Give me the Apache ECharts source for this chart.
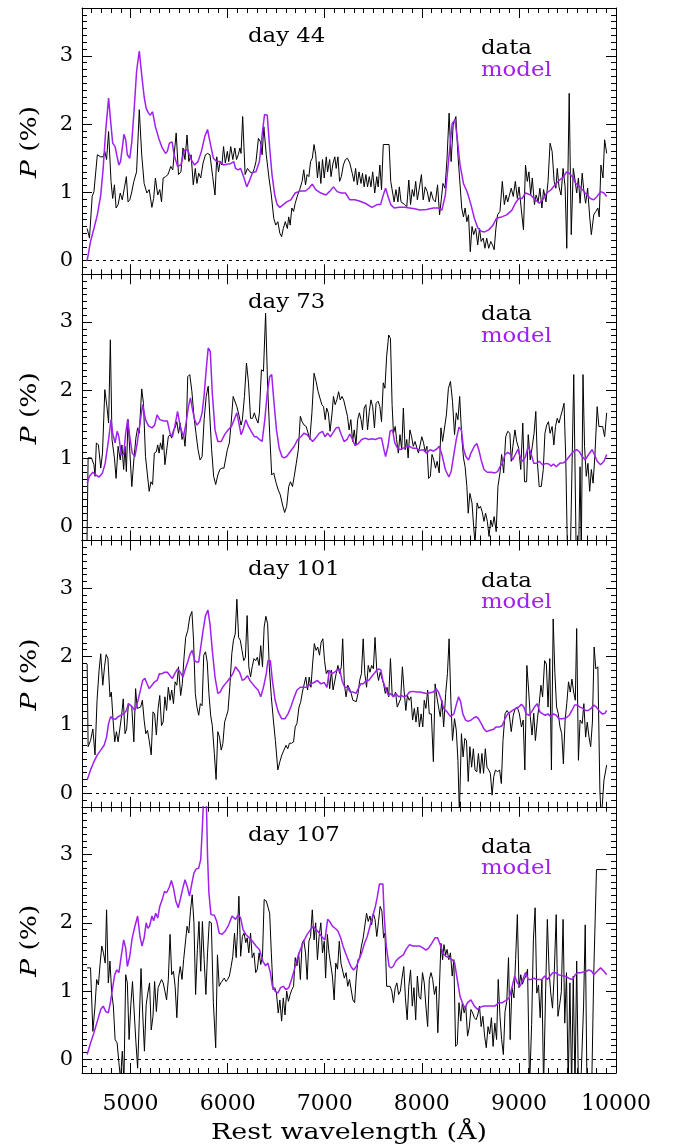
<!DOCTYPE html>
<html>
<head>
<meta charset="utf-8">
<script src="https://cdn.jsdelivr.net/npm/echarts@6/dist/echarts.min.js"></script>
<style>
  html, body { margin: 0; padding: 0; background: #fff; }
  #chart { width: 673px; height: 1148px; }
</style>
</head>
<body>
<div id="chart"></div>
<script>
// Epoch labels for the four stacked panels
const panelLabels = ['day 44', 'day 73', 'day 101', 'day 107'];
const xTickValues = [5000, 6000, 7000, 8000, 9000, 10000];
const yTickValues = [0, 1, 2, 3];

// Polarization spectra: [rest wavelength (Å), P (%)]
const day44Data = [[4553,0.47],[4577,0.33],[4605,0.94],[4623,1.01],[4658,1.55],[4693,1.52],[4718,1.52],[4735,1.60],[4753,1.48],[4774,1.89],[4799,1.16],[4816,0.91],[4834,1.11],[4851,0.77],[4872,0.82],[4894,0.99],[4915,0.89],[4936,1.06],[4957,1.23],[4974,0.86],[4992,0.89],[5010,0.99],[5034,1.16],[5062,1.30],[5090,2.21],[5115,1.55],[5140,1.13],[5168,0.99],[5192,1.04],[5220,0.78],[5238,0.91],[5256,1.21],[5280,0.96],[5301,1.04],[5319,0.86],[5336,1.21],[5361,1.23],[5386,1.26],[5414,1.38],[5435,1.33],[5449,1.55],[5470,1.87],[5494,1.26],[5519,1.30],[5540,1.65],[5561,1.48],[5582,1.84],[5600,1.45],[5624,1.55],[5646,1.11],[5667,1.35],[5684,1.13],[5702,1.28],[5723,1.21],[5747,1.43],[5772,1.55],[5793,1.57],[5818,1.55],[5846,1.23],[5870,0.96],[5888,1.52],[5906,1.30],[5923,1.45],[5941,1.40],[5958,1.67],[5976,1.43],[5997,1.60],[6011,1.45],[6032,1.67],[6053,1.48],[6074,1.65],[6092,1.48],[6109,1.55],[6127,1.65],[6138,1.57],[6155,2.11],[6180,1.26],[6204,1.35],[6229,1.30],[6257,1.28],[6275,1.35],[6292,1.45],[6317,1.79],[6338,1.74],[6355,1.55],[6373,1.96],[6398,1.55],[6426,1.21],[6450,0.96],[6475,0.62],[6496,0.52],[6517,0.57],[6538,0.40],[6556,0.35],[6573,0.47],[6594,0.57],[6615,0.47],[6629,0.64],[6644,0.52],[6661,0.77],[6679,0.72],[6696,0.84],[6721,0.96],[6742,1.04],[6767,1.16],[6784,1.33],[6802,1.11],[6819,1.26],[6837,1.23],[6854,1.45],[6872,1.50],[6890,1.70],[6907,1.55],[6925,1.21],[6942,1.45],[6960,1.13],[6977,1.48],[6995,1.21],[7016,1.52],[7030,1.30],[7051,1.48],[7065,1.23],[7086,1.43],[7104,1.52],[7118,1.35],[7136,1.52],[7153,1.16],[7171,1.23],[7192,1.40],[7213,1.48],[7234,1.50],[7258,1.43],[7283,1.28],[7301,1.16],[7318,1.35],[7336,1.11],[7353,1.30],[7374,1.13],[7389,1.28],[7406,1.08],[7424,1.26],[7441,1.08],[7459,1.23],[7476,1.08],[7494,1.30],[7515,0.99],[7536,1.23],[7550,1.08],[7568,1.40],[7585,1.04],[7603,1.70],[7663,1.70],[7680,1.16],[7698,1.16],[7715,0.86],[7733,1.04],[7754,0.86],[7768,1.08],[7786,0.86],[7803,0.84],[7824,0.82],[7845,0.79],[7866,1.18],[7884,0.82],[7902,1.04],[7919,0.94],[7937,1.16],[7954,0.89],[7972,1.04],[7996,1.26],[8014,0.89],[8035,1.08],[8056,1.01],[8077,0.86],[8095,1.01],[8119,0.89],[8140,0.86],[8162,1.11],[8183,0.67],[8200,0.89],[8218,1.13],[8239,1.06],[8260,1.50],[8281,2.16],[8302,1.45],[8323,1.99],[8351,2.11],[8372,1.55],[8394,1.11],[8411,0.77],[8429,0.64],[8446,0.77],[8464,0.57],[8481,0.67],[8499,0.13],[8517,0.50],[8534,0.38],[8555,0.47],[8576,0.23],[8594,0.47],[8611,0.28],[8632,0.33],[8650,0.18],[8668,0.33],[8689,0.18],[8710,0.28],[8727,0.23],[8745,0.16],[8763,0.47],[8780,0.67],[8805,0.72],[8829,1.16],[8850,0.82],[8868,0.96],[8885,0.86],[8903,0.96],[8921,1.06],[8942,0.94],[8963,1.16],[8984,0.91],[9001,1.08],[9023,0.77],[9047,0.45],[9068,1.40],[9086,1.16],[9103,1.30],[9121,0.96],[9138,1.21],[9160,0.82],[9177,0.96],[9198,0.86],[9216,1.06],[9237,0.77],[9254,1.04],[9279,0.86],[9300,1.16],[9321,1.72],[9342,1.60],[9363,1.16],[9381,1.06],[9395,1.35],[9413,1.08],[9434,0.96],[9455,1.35],[9476,1.08],[9493,0.18],[9518,2.45],[9539,0.38],[9560,1.35],[9578,1.18],[9595,0.99],[9613,1.21],[9630,0.84],[9652,1.28],[9666,1.06],[9687,0.84],[9708,1.06],[9729,0.64],[9746,0.38],[9771,0.67],[9792,0.72],[9813,0.77],[9827,0.64],[9845,1.40],[9866,1.21],[9883,1.77],[9904,1.57]];

const day44Model = [[4553,0.00],[4588,0.28],[4623,0.47],[4658,0.67],[4693,0.96],[4718,1.35],[4746,1.94],[4774,2.38],[4795,2.04],[4816,1.72],[4841,1.67],[4862,1.52],[4880,1.40],[4897,1.45],[4915,1.65],[4932,1.85],[4950,1.77],[4967,1.55],[4992,1.50],[5013,1.74],[5038,2.23],[5062,2.77],[5090,3.07],[5115,2.72],[5140,2.40],[5161,2.23],[5185,2.16],[5203,2.13],[5227,2.18],[5256,1.96],[5291,1.79],[5326,1.65],[5361,1.57],[5379,1.60],[5400,1.72],[5428,1.74],[5449,1.55],[5484,1.38],[5519,1.40],[5554,1.62],[5589,1.62],[5624,1.48],[5660,1.40],[5695,1.45],[5730,1.60],[5765,1.82],[5793,1.92],[5818,1.74],[5853,1.50],[5888,1.45],[5923,1.45],[5958,1.40],[5993,1.41],[6029,1.42],[6064,1.45],[6081,1.35],[6109,1.33],[6134,1.35],[6169,1.21],[6197,1.08],[6222,1.16],[6257,1.29],[6292,1.30],[6327,1.45],[6355,1.84],[6380,2.14],[6408,2.13],[6433,1.65],[6457,1.26],[6485,0.96],[6510,0.82],[6538,0.78],[6573,0.82],[6608,0.86],[6651,0.89],[6696,0.99],[6749,1.02],[6802,1.02],[6837,1.06],[6872,1.12],[6907,1.04],[6960,0.99],[7013,0.96],[7048,1.01],[7090,1.08],[7128,1.01],[7171,0.99],[7213,0.99],[7258,0.89],[7311,0.89],[7364,0.87],[7417,0.84],[7487,0.78],[7540,0.82],[7575,0.82],[7603,0.96],[7627,1.06],[7652,0.94],[7680,0.82],[7715,0.77],[7768,0.78],[7821,0.78],[7873,0.77],[7926,0.76],[7979,0.74],[8049,0.75],[8119,0.77],[8172,0.77],[8207,0.74],[8242,0.96],[8278,1.50],[8313,2.01],[8341,2.06],[8365,1.79],[8394,1.40],[8429,1.13],[8471,0.99],[8506,0.82],[8541,0.62],[8576,0.48],[8611,0.43],[8647,0.42],[8689,0.45],[8734,0.52],[8769,0.62],[8822,0.64],[8875,0.67],[8928,0.74],[8963,0.84],[8998,0.91],[9033,0.91],[9068,0.99],[9121,0.96],[9156,0.91],[9209,0.84],[9244,0.89],[9286,0.99],[9332,1.04],[9384,1.13],[9420,1.18],[9462,1.23],[9490,1.30],[9518,1.28],[9550,1.23],[9585,1.13],[9630,1.08],[9683,0.99],[9736,0.91],[9771,0.89],[9806,0.94],[9841,1.01],[9876,0.99],[9904,0.94]];

const day73Data = [[4550,-0.4],[4563,1.01],[4598,1.01],[4623,0.91],[4634,0.74],[4648,1.23],[4669,1.20],[4693,0.86],[4711,1.08],[4735,2.01],[4757,1.76],[4774,1.52],[4792,2.74],[4809,1.28],[4834,1.01],[4851,0.71],[4872,1.18],[4894,0.98],[4911,1.20],[4929,0.84],[4943,1.18],[4957,0.81],[4974,1.57],[4992,1.59],[5013,0.59],[5034,0.98],[5055,1.30],[5073,1.45],[5090,1.37],[5115,2.02],[5133,1.81],[5154,1.03],[5168,1.03],[5192,0.52],[5210,0.66],[5227,0.62],[5245,1.08],[5266,1.10],[5280,1.20],[5294,1.08],[5308,1.23],[5326,1.13],[5336,1.35],[5354,0.91],[5371,0.91],[5389,1.32],[5407,1.35],[5424,1.30],[5442,1.42],[5459,1.45],[5477,1.54],[5494,1.37],[5512,1.52],[5530,1.28],[5547,1.35],[5561,1.18],[5575,1.47],[5589,2.20],[5610,2.23],[5632,1.98],[5653,1.62],[5674,1.37],[5695,1.13],[5716,0.98],[5737,1.03],[5758,1.57],[5779,1.91],[5800,2.06],[5818,2.04],[5835,1.13],[5856,0.74],[5877,0.62],[5899,0.76],[5920,0.84],[5941,0.86],[5962,0.86],[5976,0.88],[5997,1.13],[6018,1.23],[6036,1.52],[6057,1.91],[6074,1.89],[6095,1.76],[6116,1.64],[6138,1.49],[6152,1.57],[6173,1.91],[6194,2.40],[6215,2.11],[6236,1.59],[6257,1.59],[6275,1.67],[6292,1.59],[6313,1.52],[6327,1.67],[6348,2.30],[6369,2.28],[6391,3.13],[6412,2.06],[6433,1.37],[6454,0.76],[6475,0.79],[6496,0.66],[6521,0.54],[6542,0.47],[6566,0.32],[6587,0.21],[6608,0.30],[6629,0.59],[6647,0.66],[6668,0.59],[6686,0.74],[6707,0.93],[6728,1.13],[6749,1.62],[6767,1.54],[6788,1.49],[6809,1.47],[6826,1.45],[6847,1.28],[6868,1.67],[6890,2.25],[6911,2.13],[6932,1.98],[6949,1.96],[6970,1.79],[6988,1.76],[7005,1.57],[7020,1.74],[7037,1.67],[7055,1.40],[7076,1.67],[7090,1.91],[7107,1.79],[7125,1.86],[7143,1.98],[7160,1.86],[7178,1.91],[7195,1.86],[7213,1.88],[7234,1.62],[7251,1.42],[7269,1.57],[7287,1.25],[7304,1.42],[7322,1.20],[7339,1.57],[7357,1.67],[7374,1.57],[7389,1.42],[7406,1.74],[7424,1.79],[7441,1.42],[7459,1.69],[7476,1.86],[7494,1.76],[7512,1.45],[7529,1.81],[7550,1.84],[7568,1.76],[7585,1.54],[7603,2.11],[7620,2.03],[7638,2.50],[7659,2.81],[7677,2.76],[7694,1.79],[7708,1.37],[7726,1.47],[7740,1.28],[7758,1.08],[7775,1.35],[7793,1.13],[7810,1.74],[7828,1.13],[7845,1.28],[7859,1.01],[7877,1.42],[7895,1.32],[7912,1.18],[7930,1.25],[7947,1.23],[7965,1.08],[7982,1.06],[8000,1.32],[8018,1.23],[8035,1.10],[8053,1.18],[8070,0.71],[8088,0.74],[8105,1.06],[8123,0.98],[8141,0.86],[8158,0.96],[8179,0.79],[8197,1.45],[8214,1.25],[8232,1.23],[8253,1.64],[8274,2.03],[8295,2.13],[8316,1.84],[8337,1.35],[8355,1.67],[8372,1.57],[8390,1.91],[8411,1.32],[8429,1.01],[8446,0.88],[8464,0.59],[8478,0.20],[8495,0.49],[8517,0.35],[8534,0.00],[8548,-0.25],[8569,0.35],[8587,0.27],[8604,0.30],[8622,0.22],[8640,0.08],[8657,0.20],[8675,0.08],[8692,-0.14],[8710,0.10],[8727,0.00],[8745,0.15],[8766,-0.07],[8784,0.59],[8805,0.79],[8822,1.06],[8843,0.79],[8864,1.32],[8885,1.40],[8907,1.37],[8921,0.96],[8938,1.18],[8959,1.42],[8977,1.25],[8998,1.15],[9019,0.84],[9040,1.52],[9058,0.66],[9079,0.66],[9096,1.35],[9117,0.98],[9138,1.18],[9156,1.37],[9174,1.69],[9191,0.93],[9209,0.59],[9230,0.59],[9251,0.84],[9268,1.37],[9286,1.49],[9304,1.54],[9321,1.37],[9342,1.47],[9360,1.20],[9377,1.47],[9395,1.59],[9413,1.52],[9430,1.62],[9448,1.71],[9465,1.81],[9483,0.98],[9500,-0.4],[9530,-0.4],[9565,2.23],[9590,-0.4],[9615,-0.4],[9630,0.88],[9642,-0.4],[9660,2.23],[9676,1.18],[9694,0.74],[9711,0.93],[9729,0.52],[9746,0.84],[9764,0.64],[9782,1.03],[9806,1.76],[9824,1.47],[9841,1.49],[9862,1.47],[9883,1.32],[9904,1.67]];

const day73Model = [[4553,0.64],[4577,0.74],[4612,0.80],[4641,0.76],[4676,0.73],[4711,0.79],[4739,0.93],[4774,1.28],[4799,1.57],[4816,1.37],[4841,1.23],[4862,1.40],[4880,1.32],[4904,1.06],[4929,1.06],[4950,1.37],[4971,1.58],[4992,1.32],[5017,1.08],[5045,1.03],[5069,1.23],[5097,1.52],[5125,1.79],[5154,1.57],[5185,1.48],[5220,1.45],[5248,1.49],[5273,1.64],[5301,1.57],[5343,1.55],[5379,1.55],[5407,1.37],[5431,1.32],[5456,1.47],[5484,1.69],[5512,1.47],[5544,1.32],[5572,1.52],[5596,1.76],[5617,1.89],[5639,1.71],[5660,1.57],[5684,1.49],[5712,1.54],[5737,1.67],[5758,1.93],[5779,2.30],[5800,2.62],[5821,2.57],[5842,1.96],[5870,1.42],[5899,1.25],[5934,1.25],[5969,1.35],[6004,1.42],[6039,1.47],[6067,1.57],[6095,1.67],[6116,1.52],[6138,1.35],[6159,1.42],[6187,1.57],[6215,1.47],[6243,1.40],[6275,1.32],[6299,1.32],[6327,1.28],[6355,1.25],[6383,1.57],[6408,1.96],[6433,2.20],[6454,2.23],[6475,1.86],[6503,1.42],[6531,1.15],[6559,1.03],[6580,1.01],[6608,1.03],[6644,1.10],[6686,1.18],[6721,1.28],[6756,1.32],[6784,1.37],[6819,1.35],[6847,1.30],[6875,1.25],[6907,1.30],[6942,1.37],[6977,1.40],[7002,1.32],[7030,1.37],[7058,1.32],[7086,1.38],[7118,1.45],[7143,1.46],[7171,1.35],[7199,1.25],[7230,1.28],[7258,1.36],[7287,1.28],[7311,1.19],[7346,1.22],[7381,1.28],[7417,1.30],[7452,1.28],[7487,1.29],[7522,1.28],[7557,1.30],[7585,1.30],[7610,1.13],[7627,1.03],[7652,1.18],[7673,1.40],[7698,1.42],[7722,1.23],[7751,1.15],[7775,1.13],[7803,1.15],[7838,1.17],[7873,1.18],[7909,1.15],[7944,1.15],[7979,1.12],[8014,1.13],[8049,1.08],[8084,1.13],[8119,1.11],[8155,1.14],[8179,1.18],[8207,1.06],[8242,0.84],[8278,0.73],[8302,0.81],[8330,1.06],[8355,1.28],[8383,1.46],[8408,1.42],[8429,1.15],[8453,1.03],[8481,0.98],[8506,1.08],[8541,1.18],[8566,1.22],[8587,1.13],[8611,0.98],[8640,0.84],[8675,0.80],[8717,0.80],[8752,0.79],[8780,0.81],[8805,0.88],[8829,0.93],[8857,1.06],[8885,1.09],[8914,1.06],[8935,0.98],[8963,1.06],[8991,1.14],[9016,1.01],[9040,0.96],[9068,1.03],[9096,1.18],[9124,1.08],[9153,0.93],[9181,0.93],[9209,0.96],[9244,0.91],[9279,0.93],[9307,0.92],[9332,0.89],[9356,0.92],[9384,0.88],[9420,0.93],[9462,0.94],[9490,0.98],[9525,1.04],[9560,1.10],[9595,1.13],[9623,1.10],[9652,1.03],[9683,0.98],[9718,1.06],[9753,1.13],[9778,1.06],[9806,0.96],[9841,0.91],[9876,0.96],[9904,1.06]];

const day101Data = [[4553,1.89],[4563,0.68],[4588,0.77],[4612,0.94],[4634,0.56],[4655,1.36],[4676,1.80],[4693,2.04],[4714,1.58],[4732,1.85],[4749,2.03],[4767,1.97],[4788,1.41],[4802,1.48],[4820,1.07],[4837,0.75],[4855,0.90],[4872,0.75],[4890,0.75],[4908,1.14],[4925,1.38],[4943,0.87],[4960,0.94],[4978,1.31],[4995,1.33],[5013,1.26],[5034,0.75],[5052,1.53],[5069,1.24],[5087,1.24],[5104,1.26],[5122,1.36],[5140,1.07],[5157,0.87],[5175,0.92],[5192,0.77],[5213,0.56],[5231,1.19],[5248,1.16],[5266,0.85],[5284,1.24],[5301,1.43],[5319,0.99],[5336,1.04],[5354,1.41],[5371,1.21],[5389,1.55],[5407,1.36],[5424,1.51],[5442,1.31],[5459,1.63],[5477,1.58],[5494,1.85],[5516,1.43],[5533,1.60],[5551,1.99],[5568,2.28],[5589,2.38],[5610,2.58],[5632,2.66],[5649,2.24],[5667,1.46],[5684,1.26],[5702,1.14],[5719,1.31],[5737,1.28],[5754,2.02],[5772,2.07],[5790,1.92],[5807,1.46],[5825,1.14],[5842,0.99],[5863,0.58],[5881,0.20],[5899,0.90],[5916,0.82],[5934,0.63],[5951,0.73],[5969,1.04],[5986,1.12],[6004,1.21],[6022,1.55],[6043,2.04],[6060,2.24],[6078,2.33],[6095,2.84],[6113,2.28],[6130,2.24],[6148,2.09],[6166,1.94],[6183,1.99],[6201,2.60],[6218,1.85],[6236,1.70],[6253,1.85],[6271,1.97],[6289,1.94],[6306,1.99],[6324,1.87],[6341,2.16],[6359,1.85],[6376,2.43],[6394,2.59],[6412,2.48],[6429,1.85],[6450,1.41],[6471,1.07],[6492,0.77],[6517,0.34],[6538,0.46],[6559,0.56],[6580,0.63],[6601,0.70],[6619,0.65],[6637,0.73],[6658,0.73],[6679,0.75],[6696,0.97],[6714,1.02],[6735,1.26],[6752,1.33],[6770,1.48],[6788,1.46],[6805,1.70],[6823,1.51],[6840,1.70],[6858,1.55],[6875,1.89],[6893,2.19],[6911,2.09],[6928,2.14],[6946,2.02],[6963,2.21],[6981,2.26],[6998,1.94],[7016,1.75],[7034,1.80],[7051,1.53],[7069,1.80],[7086,1.51],[7104,1.53],[7118,1.75],[7136,1.87],[7153,1.75],[7171,1.85],[7185,2.26],[7202,1.60],[7220,1.41],[7237,1.58],[7255,1.53],[7273,1.46],[7290,1.36],[7308,1.34],[7325,1.34],[7343,1.46],[7360,1.65],[7378,1.75],[7396,2.26],[7413,1.75],[7431,1.55],[7448,1.87],[7466,1.77],[7483,1.87],[7501,1.82],[7518,2.28],[7536,1.80],[7554,1.65],[7571,1.77],[7589,1.75],[7606,1.60],[7624,1.46],[7642,1.55],[7659,1.41],[7677,1.97],[7694,1.46],[7712,1.41],[7729,1.48],[7747,1.26],[7765,1.28],[7782,1.38],[7800,1.85],[7817,1.51],[7835,1.21],[7852,1.43],[7870,1.36],[7888,1.41],[7905,1.07],[7923,1.24],[7940,1.04],[7958,1.26],[7975,0.97],[7993,1.16],[8010,0.97],[8025,1.36],[8042,1.24],[8060,1.51],[8077,1.16],[8098,1.16],[8119,0.46],[8137,1.60],[8155,1.41],[8172,1.26],[8190,1.12],[8207,1.36],[8225,0.97],[8246,1.46],[8264,1.75],[8281,2.26],[8299,1.36],[8316,0.77],[8337,1.09],[8355,0.92],[8372,0.48],[8387,-0.3],[8408,0.87],[8425,0.53],[8443,0.80],[8460,0.77],[8478,0.17],[8495,0.68],[8513,0.38],[8531,0.65],[8548,0.34],[8566,0.31],[8583,0.58],[8601,0.29],[8619,0.58],[8636,0.29],[8654,0.65],[8671,0.38],[8689,0.34],[8706,0.29],[8724,-0.03],[8741,0.24],[8759,0.34],[8780,0.31],[8801,0.34],[8819,0.14],[8836,0.77],[8857,1.16],[8878,1.21],[8900,1.16],[8921,0.90],[8942,1.14],[8963,1.24],[8984,1.26],[9005,1.16],[9026,0.97],[9044,1.07],[9061,0.34],[9082,1.87],[9100,1.51],[9117,1.12],[9135,0.85],[9153,1.17],[9170,0.77],[9191,1.09],[9209,1.31],[9227,1.58],[9244,1.41],[9265,1.94],[9283,1.89],[9300,1.26],[9318,1.97],[9335,0.34],[9353,2.55],[9370,1.77],[9388,1.26],[9406,1.16],[9423,0.97],[9441,0.87],[9458,0.43],[9476,1.07],[9493,1.31],[9511,1.63],[9529,1.48],[9546,1.67],[9564,1.48],[9581,1.36],[9595,2.41],[9613,0.48],[9630,1.07],[9652,1.02],[9669,1.31],[9687,0.82],[9704,1.04],[9722,0.82],[9739,0.68],[9757,1.04],[9775,2.14],[9792,1.82],[9813,1.85],[9834,0.04],[9848,-0.4],[9876,0.19],[9904,0.41]];

const day101Model = [[4553,0.19],[4588,0.34],[4623,0.46],[4658,0.56],[4693,0.63],[4728,0.70],[4753,0.82],[4774,1.02],[4795,1.12],[4816,1.09],[4844,1.08],[4872,1.12],[4901,1.14],[4929,1.16],[4957,1.21],[4978,1.31],[4999,1.29],[5020,1.26],[5045,1.21],[5069,1.31],[5097,1.48],[5125,1.65],[5147,1.68],[5168,1.61],[5192,1.53],[5220,1.58],[5248,1.63],[5273,1.65],[5298,1.75],[5326,1.75],[5350,1.77],[5379,1.77],[5407,1.72],[5431,1.68],[5456,1.75],[5484,1.82],[5512,1.77],[5540,1.70],[5565,1.82],[5589,1.92],[5614,2.04],[5635,2.09],[5660,1.94],[5681,1.92],[5702,1.92],[5723,2.14],[5747,2.38],[5772,2.60],[5797,2.68],[5818,2.48],[5842,2.09],[5870,1.70],[5899,1.46],[5923,1.48],[5948,1.55],[5976,1.60],[6004,1.65],[6032,1.70],[6060,1.77],[6081,1.85],[6099,1.87],[6123,1.77],[6152,1.65],[6176,1.67],[6204,1.72],[6229,1.65],[6257,1.60],[6285,1.55],[6313,1.51],[6341,1.41],[6369,1.55],[6398,1.75],[6415,1.94],[6440,1.94],[6461,1.65],[6489,1.36],[6521,1.19],[6556,1.09],[6591,1.09],[6622,1.16],[6651,1.26],[6679,1.38],[6714,1.51],[6749,1.55],[6784,1.55],[6819,1.55],[6854,1.60],[6890,1.62],[6925,1.65],[6960,1.60],[6995,1.62],[7023,1.55],[7048,1.80],[7072,1.75],[7100,1.77],[7128,1.80],[7153,1.82],[7178,1.65],[7206,1.55],[7234,1.55],[7262,1.48],[7294,1.48],[7322,1.46],[7346,1.53],[7371,1.60],[7399,1.60],[7424,1.65],[7452,1.65],[7480,1.70],[7508,1.75],[7536,1.80],[7557,1.82],[7578,1.80],[7599,1.65],[7627,1.53],[7656,1.43],[7680,1.46],[7705,1.41],[7733,1.46],[7761,1.41],[7789,1.43],[7817,1.41],[7845,1.43],[7873,1.48],[7909,1.49],[7944,1.48],[7979,1.48],[8014,1.47],[8049,1.46],[8084,1.47],[8119,1.48],[8148,1.53],[8172,1.48],[8197,1.38],[8225,1.24],[8260,1.19],[8295,1.12],[8330,1.16],[8358,1.31],[8379,1.41],[8400,1.34],[8422,1.16],[8450,1.07],[8478,1.05],[8506,1.07],[8534,1.10],[8559,1.12],[8583,1.09],[8611,1.02],[8640,0.94],[8668,0.90],[8703,0.92],[8734,0.93],[8766,0.97],[8801,0.97],[8829,0.99],[8857,1.09],[8885,1.16],[8914,1.19],[8942,1.22],[8970,1.24],[8998,1.26],[9026,1.30],[9051,1.26],[9075,1.16],[9103,1.14],[9131,1.19],[9160,1.26],[9188,1.31],[9216,1.19],[9244,1.16],[9272,1.14],[9300,1.16],[9328,1.12],[9356,1.16],[9384,1.14],[9413,1.09],[9448,1.09],[9483,1.10],[9518,1.14],[9546,1.21],[9574,1.29],[9602,1.29],[9630,1.26],[9659,1.24],[9687,1.21],[9715,1.21],[9743,1.24],[9771,1.29],[9799,1.26],[9827,1.20],[9859,1.16],[9887,1.17],[9904,1.21]];

const day107Data = [[4553,1.34],[4588,1.34],[4612,0.41],[4634,0.78],[4651,1.17],[4669,1.09],[4686,1.39],[4704,1.66],[4721,1.56],[4739,1.41],[4753,2.19],[4771,1.12],[4788,1.44],[4806,0.97],[4823,0.78],[4841,0.29],[4862,0.24],[4880,-0.05],[4897,-0.3],[4915,0.12],[4932,-0.3],[4950,1.24],[4967,1.12],[4985,0.29],[5003,0.80],[5020,1.14],[5038,0.68],[5055,0.26],[5073,-0.13],[5090,0.58],[5108,1.33],[5125,0.68],[5143,0.12],[5161,0.80],[5178,0.97],[5196,1.12],[5213,0.43],[5231,0.63],[5248,1.14],[5266,0.70],[5284,1.05],[5301,1.05],[5319,1.17],[5336,1.12],[5354,1.00],[5371,0.87],[5389,1.17],[5407,1.83],[5424,1.24],[5442,1.29],[5459,1.07],[5477,0.61],[5494,1.19],[5512,1.36],[5530,1.17],[5547,1.46],[5565,1.44],[5582,1.95],[5600,1.85],[5617,2.17],[5635,2.41],[5653,2.00],[5670,0.95],[5688,1.61],[5705,2.02],[5723,1.29],[5740,2.02],[5758,1.46],[5776,0.95],[5793,1.56],[5811,2.02],[5832,2.00],[5853,0.83],[5877,0.17],[5895,1.53],[5913,1.07],[5930,1.12],[5948,1.12],[5965,1.19],[5983,1.14],[6000,1.17],[6018,1.22],[6036,1.36],[6053,1.51],[6071,1.85],[6088,1.49],[6099,1.80],[6116,2.39],[6134,1.51],[6152,1.80],[6169,1.85],[6187,1.71],[6201,1.78],[6218,1.56],[6236,1.85],[6253,1.49],[6271,1.56],[6289,1.27],[6306,1.32],[6324,1.56],[6341,1.39],[6359,1.51],[6376,2.34],[6398,2.32],[6415,2.32],[6433,2.14],[6450,1.56],[6468,1.02],[6485,1.05],[6503,0.97],[6521,0.68],[6538,0.87],[6556,0.56],[6573,0.90],[6591,0.65],[6608,1.00],[6626,0.85],[6644,0.95],[6661,1.02],[6679,1.07],[6696,1.49],[6714,1.37],[6731,1.56],[6749,1.17],[6767,1.70],[6784,1.75],[6802,1.56],[6819,1.17],[6837,1.73],[6854,1.80],[6872,2.19],[6890,1.75],[6907,2.00],[6925,1.46],[6942,1.80],[6960,2.00],[6977,1.56],[6995,1.73],[7009,1.19],[7027,1.83],[7044,1.56],[7062,1.56],[7079,1.22],[7097,0.87],[7114,1.41],[7132,1.32],[7150,1.73],[7167,1.41],[7185,1.41],[7202,1.19],[7220,1.27],[7237,1.07],[7255,1.17],[7273,1.15],[7290,0.87],[7308,0.83],[7325,1.22],[7343,1.46],[7360,1.49],[7378,1.66],[7396,1.78],[7413,1.76],[7431,2.14],[7448,2.02],[7466,2.10],[7483,1.97],[7501,2.14],[7518,2.05],[7536,1.80],[7554,2.02],[7571,2.24],[7589,2.17],[7606,1.78],[7620,1.85],[7638,1.07],[7656,1.05],[7673,1.07],[7691,1.00],[7708,0.83],[7726,1.05],[7743,1.12],[7761,0.95],[7779,1.00],[7796,1.19],[7814,1.36],[7831,0.90],[7849,0.58],[7866,1.07],[7884,1.31],[7902,0.78],[7919,1.05],[7937,0.58],[7954,1.22],[7972,0.92],[7989,0.88],[8007,1.27],[8025,1.12],[8042,0.78],[8060,0.48],[8077,1.17],[8095,1.27],[8112,1.17],[8130,0.95],[8148,1.07],[8165,0.39],[8183,0.37],[8197,1.70],[8214,1.46],[8228,1.68],[8246,1.53],[8260,1.61],[8278,1.46],[8295,1.56],[8313,1.22],[8330,1.46],[8348,0.19],[8365,0.22],[8383,0.83],[8401,0.56],[8418,0.83],[8436,0.68],[8453,0.78],[8471,0.34],[8488,0.46],[8506,0.73],[8524,0.68],[8541,0.61],[8559,0.58],[8576,0.65],[8594,0.78],[8611,0.48],[8629,0.63],[8647,0.34],[8664,0.17],[8682,0.48],[8699,0.37],[8717,0.61],[8734,0.19],[8752,0.53],[8770,0.29],[8787,1.17],[8805,0.63],[8822,0.29],[8840,0.07],[8857,0.70],[8875,0.85],[8893,1.49],[8910,0.29],[8928,1.05],[8949,0.90],[8966,1.46],[8984,2.12],[9001,1.05],[9019,1.24],[9036,1.10],[9054,1.17],[9072,1.22],[9089,1.32],[9110,-0.4],[9131,0.51],[9149,1.75],[9167,2.22],[9184,0.97],[9202,1.09],[9219,0.61],[9237,1.17],[9254,-0.4],[9276,1.05],[9293,2.05],[9311,1.29],[9328,0.97],[9346,0.75],[9363,1.22],[9384,2.12],[9402,0.63],[9420,0.80],[9437,0.99],[9455,2.05],[9472,0.53],[9490,1.27],[9508,-0.4],[9525,1.12],[9543,-0.4],[9560,1.22],[9578,-0.4],[9595,1.44],[9613,-0.4],[9637,-0.4],[9666,0.78],[9683,1.97],[9701,-0.4],[9750,-0.4],[9771,1.27],[9799,2.78],[9904,2.78]];

const day107Model = [[4553,0.07],[4588,0.24],[4623,0.39],[4658,0.56],[4693,0.73],[4718,0.78],[4746,0.70],[4771,0.68],[4792,0.83],[4816,1.05],[4837,1.24],[4858,1.31],[4880,1.27],[4904,1.51],[4929,1.75],[4950,1.63],[4967,1.36],[4992,1.51],[5017,1.78],[5045,1.95],[5073,2.10],[5097,1.80],[5118,1.66],[5140,1.78],[5161,2.00],[5178,1.92],[5196,1.95],[5220,2.10],[5238,2.03],[5259,2.14],[5280,2.07],[5301,2.24],[5326,2.34],[5350,2.46],[5371,2.44],[5396,2.51],[5421,2.62],[5442,2.51],[5466,2.32],[5491,2.22],[5512,2.34],[5537,2.50],[5561,2.63],[5582,2.54],[5607,2.39],[5632,2.58],[5653,2.73],[5677,2.79],[5702,2.80],[5723,2.93],[5740,3.41],[5755,3.90],[5779,3.90],[5793,2.98],[5807,2.44],[5828,2.12],[5863,2.11],[5888,2.02],[5913,1.85],[5941,1.83],[5976,1.88],[6011,1.97],[6046,2.10],[6081,2.05],[6109,2.12],[6134,2.07],[6159,1.90],[6187,1.83],[6222,1.78],[6257,1.73],[6292,1.66],[6327,1.61],[6362,1.44],[6391,1.37],[6415,1.41],[6440,1.27],[6461,1.07],[6489,1.00],[6517,0.97],[6545,1.05],[6573,1.07],[6601,1.02],[6630,1.05],[6658,1.17],[6686,1.31],[6714,1.46],[6749,1.61],[6784,1.73],[6819,1.83],[6854,1.90],[6882,1.95],[6911,1.90],[6939,1.86],[6967,1.80],[7002,1.75],[7030,2.05],[7051,2.02],[7079,1.95],[7107,1.92],[7136,1.88],[7164,1.78],[7188,1.66],[7213,1.56],[7241,1.46],[7269,1.36],[7297,1.31],[7325,1.36],[7353,1.46],[7381,1.56],[7410,1.70],[7438,1.80],[7466,1.95],[7494,2.10],[7522,2.24],[7543,2.39],[7564,2.57],[7599,2.57],[7613,2.10],[7634,1.66],[7663,1.36],[7684,1.34],[7705,1.36],[7733,1.44],[7768,1.49],[7810,1.53],[7838,1.61],[7873,1.68],[7909,1.66],[7944,1.66],[7979,1.66],[8014,1.63],[8042,1.60],[8070,1.63],[8102,1.70],[8137,1.78],[8162,1.78],[8190,1.68],[8218,1.56],[8246,1.51],[8278,1.49],[8313,1.46],[8337,1.42],[8365,1.17],[8394,0.92],[8418,0.83],[8443,0.75],[8471,0.83],[8506,0.87],[8541,0.78],[8576,0.73],[8611,0.77],[8647,0.78],[8699,0.78],[8752,0.78],[8794,0.83],[8829,0.83],[8864,0.86],[8900,0.90],[8928,1.05],[8956,1.22],[8984,1.12],[9012,1.07],[9040,1.17],[9068,1.27],[9096,1.17],[9124,1.17],[9153,1.19],[9181,1.17],[9209,1.17],[9237,1.17],[9265,1.22],[9293,1.17],[9321,1.22],[9349,1.27],[9377,1.27],[9406,1.24],[9434,1.23],[9462,1.22],[9490,1.21],[9525,1.18],[9553,1.17],[9581,1.24],[9609,1.27],[9637,1.27],[9666,1.28],[9694,1.29],[9722,1.31],[9750,1.29],[9771,1.24],[9806,1.29],[9841,1.34],[9876,1.29],[9904,1.24]];

const dataSeries = [day44Data, day73Data, day101Data, day107Data];
const modelSeries = [day44Model, day73Model, day101Model, day107Model];

// Layout and style settings
const X_MIN = 4500, X_MAX = 10000, Y_MIN = -0.2, Y_MAX = 3.7;
const GRID_LEFT = 82, GRID_WIDTH = 534, GRID_TOP = 8, GRID_HEIGHT = 266.25;
const FONT_FAMILY = '"DejaVu Serif", serif';
const MODEL_COLOR = '#a020f0';
const INK = '#000';
const plainNumber = v => String(Math.round(v));

const grids = [], xAxes = [], yAxes = [], series = [], graphics = [];

panelLabels.forEach((label, i) => {
  const top = GRID_TOP + i * GRID_HEIGHT;
  const isBottom = i === panelLabels.length - 1;
  grids.push({ left: GRID_LEFT, top: top, width: GRID_WIDTH, height: GRID_HEIGHT, outerBoundsMode: 'none' });

  // Wavelength axes: major + minor ticks along bottom and top edges
  const mainX = xAxes.length;
  ['bottom', 'top'].forEach(pos => {
    xAxes.push({
      type: 'value', gridIndex: i, position: pos, min: X_MIN, max: X_MAX,
      axisLine: { show: true, onZero: false, lineStyle: { color: INK, width: 1 } },
      axisTick: { show: true, inside: true, length: 10, customValues: xTickValues, lineStyle: { color: INK, width: 1 } },
      axisLabel: {
        show: pos === 'bottom' && isBottom, customValues: xTickValues, margin: 20,
        formatter: plainNumber, fontFamily: FONT_FAMILY, fontSize: 22, color: INK
      },
      splitLine: { show: false }
    });
    xAxes.push({
      type: 'value', gridIndex: i, position: pos, min: X_MIN, max: X_MAX, interval: 100,
      axisLine: { show: false, onZero: false },
      axisTick: { show: true, inside: true, length: 5, lineStyle: { color: INK, width: 1 } },
      axisLabel: { show: false }, splitLine: { show: false }
    });
  });

  // Polarization axes: major + minor ticks along left and right edges
  const mainY = yAxes.length;
  ['left', 'right'].forEach(pos => {
    yAxes.push({
      type: 'value', gridIndex: i, position: pos, min: Y_MIN, max: Y_MAX,
      axisLine: { show: true, onZero: false, lineStyle: { color: INK, width: 1 } },
      axisTick: { show: true, inside: true, length: 10, customValues: yTickValues, lineStyle: { color: INK, width: 1 } },
      axisLabel: {
        show: pos === 'left', customValues: yTickValues, margin: 9,
        formatter: plainNumber, fontFamily: FONT_FAMILY, fontSize: 21, color: INK
      },
      splitLine: { show: false }
    });
    yAxes.push({
      type: 'value', gridIndex: i, position: pos, min: Y_MIN, max: Y_MAX, interval: 0.1,
      axisLine: { show: false, onZero: false },
      axisTick: { show: true, inside: true, length: 5, lineStyle: { color: INK, width: 1 } },
      axisLabel: { show: false }, splitLine: { show: false }
    });
  });

  series.push({
    type: 'line', name: 'data', xAxisIndex: mainX, yAxisIndex: mainY,
    data: dataSeries[i], showSymbol: false, clip: true, z: 3,
    lineStyle: { color: INK, width: 1 },
    markLine: {
      silent: true, symbol: 'none', label: { show: false },
      lineStyle: { color: INK, width: 1, type: [3, 4] },
      data: [{ yAxis: 0 }]
    }
  });
  series.push({
    type: 'line', name: 'model', xAxisIndex: mainX, yAxisIndex: mainY,
    data: modelSeries[i], showSymbol: false, clip: true, z: 4,
    lineStyle: { color: MODEL_COLOR, width: 1.5 }
  });

  // Panel annotations
  graphics.push({
    type: 'text', x: 248, y: top + 29, scaleX: 1.14, silent: true,
    style: { text: label, font: `20px ${FONT_FAMILY}`, fill: INK, textAlign: 'left', textVerticalAlign: 'middle' }
  });
  graphics.push({
    type: 'text', x: 481, y: top + 41, scaleX: 1.14, silent: true,
    style: { text: 'data', font: `20px ${FONT_FAMILY}`, fill: INK, textAlign: 'left', textVerticalAlign: 'middle' }
  });
  graphics.push({
    type: 'text', x: 481, y: top + 62.5, scaleX: 1.14, silent: true,
    style: { text: 'model', font: `20px ${FONT_FAMILY}`, fill: MODEL_COLOR, textAlign: 'left', textVerticalAlign: 'middle' }
  });
  graphics.push({
    type: 'text', x: 30, y: top + 134, rotation: Math.PI / 2, scaleX: 1.15, silent: true,
    style: {
      text: '{i|P} (%)', fontFamily: FONT_FAMILY, fontSize: 23, fill: INK,
      textAlign: 'center', textVerticalAlign: 'middle',
      rich: { i: { fontStyle: 'italic', fontFamily: FONT_FAMILY, fontSize: 23, fill: INK } }
    }
  });
});

graphics.push({
  type: 'text', x: GRID_LEFT + GRID_WIDTH / 2, y: 1133, scaleX: 1.17, silent: true,
  style: { text: 'Rest wavelength (Å)', font: `23px ${FONT_FAMILY}`, fill: INK, textAlign: 'center', textVerticalAlign: 'middle' }
});

const chart = echarts.init(document.getElementById('chart'), null, { renderer: 'canvas' });
chart.setOption({
  animation: false,
  backgroundColor: '#fff',
  grid: grids,
  xAxis: xAxes,
  yAxis: yAxes,
  series: series,
  graphic: { elements: graphics }
});
</script>
</body>
</html>
